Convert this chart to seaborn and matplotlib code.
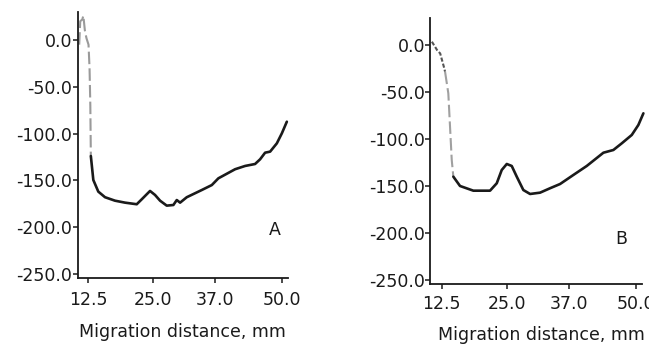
import numpy as np
import pandas as pd
import matplotlib
matplotlib.use("Agg")
import matplotlib.pyplot as plt
import seaborn as sns

# --- DATA ---
dist_a = [10.8, 11.0, 11.4, 11.6, 11.9, 12.2, 12.6, 12.8, 12.95, 13.05,
          13.53, 14.49, 15.79, 17.72, 19.66, 21.92, 22.89, 24.49, 25.46, 26.43,
          27.72, 29.0, 29.66, 30.3, 31.59, 34.49, 36.43, 37.7, 40.93, 42.86,
          44.79, 45.76, 46.73, 47.7, 49.0, 49.97, 50.93]
signal_a = [-5, 20, 22, 26, 10, 2, -5, -30, -70, -124,
            -149.6, -162, -168, -171.7, -173.8, -175.5, -170.2, -161.3, -165.6, -171.7,
            -177, -176.3, -171, -173.8, -168, -160.3, -155, -147.8, -138.1, -134.6,
            -132.5, -127.5, -120.4, -119.3, -110.4, -99.7, -87.3]

dist_b = [10.6, 11.6, 12.2, 12.9, 13.14, 13.77, 14.1, 14.43, 14.74, 16.03,
          18.6, 21.82, 23.12, 24.08, 25.05, 26.01, 26.98, 28.25, 29.55, 31.48,
          33.41, 35.34, 37.9, 40.49, 43.7, 45.63, 47.25, 49.18, 50.45, 51.42]
signal_b = [3.5, -5.4, -9, -23, -28.4, -51.4, -86.9, -122.3, -140.1, -150,
            -155, -155, -147.1, -133, -126.6, -128.7, -140.1, -154.3, -158.5, -157.1,
            -152.4, -147.9, -138.3, -128.7, -114.6, -111.7, -104.6, -95.7, -85.1, -72.7]

x_ticks = [12.5, 25.0, 37.0, 50.0]
y_ticks = [0.0, -50.0, -100.0, -150.0, -200.0, -250.0]
panel_labels = ["A", "B"]
x_label = "Migration distance, mm"

sns.set_style("white")
plt.rcParams["font.family"] = ["DejaVu Sans"]
plt.rcParams["axes.unicode_minus"] = False

fig = plt.figure(figsize=(6.49, 3.44), dpi=100)

# pixel-measured axes boxes
ax_a = fig.add_axes([0.1202, 0.1927, 0.3236, 0.7724])
ax_b = fig.add_axes([0.6626, 0.1730, 0.3262, 0.7738])

INK = "#1a1a1a"


def draw_panel(ax, x, y, segments, label, xlim, ylim, label_pos,
               xpad, ypad, xlabel_y, xlabel_x):
    df = pd.DataFrame({"x": x, "y": y})
    # the scan renders the steep drop as a faint broken grey line
    for start, end, color, lw, ls in segments:
        part = df.iloc[start:end + 1]
        sns.lineplot(data=part, x="x", y="y", ax=ax, color=color, lw=lw,
                     linestyle=ls, sort=False, estimator=None, clip_on=False)
    ax.set_xlim(*xlim)
    ax.set_ylim(*ylim)
    ax.set_xticks(x_ticks)
    ax.set_xticklabels([f"{t:.1f}" for t in x_ticks])
    ax.set_yticks(y_ticks)
    ax.set_yticklabels([f"{t:.1f}" for t in y_ticks])
    ax.tick_params(axis="both", direction="out", length=3.5, width=1.1,
                   labelsize=12.5, colors=INK, bottom=True, left=True)
    ax.tick_params(axis="x", pad=xpad)
    ax.tick_params(axis="y", pad=ypad)
    for side in ["top", "right"]:
        ax.spines[side].set_visible(False)
    for side in ["left", "bottom"]:
        ax.spines[side].set_color(INK)
        ax.spines[side].set_linewidth(1.3)
    ax.set_xlabel(x_label, fontsize=12.5, color=INK)
    ax.xaxis.label.set_va("baseline")
    ax.xaxis.set_label_coords(xlabel_x, xlabel_y)
    ax.set_ylabel("")
    ax.text(*label_pos, label, transform=ax.transAxes, fontsize=12.5,
            color=INK, ha="center", va="center")


draw_panel(ax_a, dist_a, signal_a,
           [(0, 9, "#9a9a9a", 1.5, (0, (6, 2))), (9, len(dist_a) - 1, INK, 1.9, "-")],
           panel_labels[0], (10.57, 51.16), (-254, 29.9), (0.935, 0.18),
           xpad=6, ypad=0.8, xlabel_y=-0.222, xlabel_x=0.495)
draw_panel(ax_b, dist_b, signal_b,
           [(0, 4, "#555555", 1.5, (0, (2, 1))), (4, 8, "#a0a0a0", 1.5, (0, (6, 2))),
            (8, len(dist_b) - 1, INK, 1.9, "-")],
           panel_labels[1], (10.24, 51.1), (-254.8, 28.4), (0.905, 0.17),
           xpad=4.2, ypad=0.2, xlabel_y=-0.2085, xlabel_x=0.528)

fig.savefig("out.png", dpi=100)
